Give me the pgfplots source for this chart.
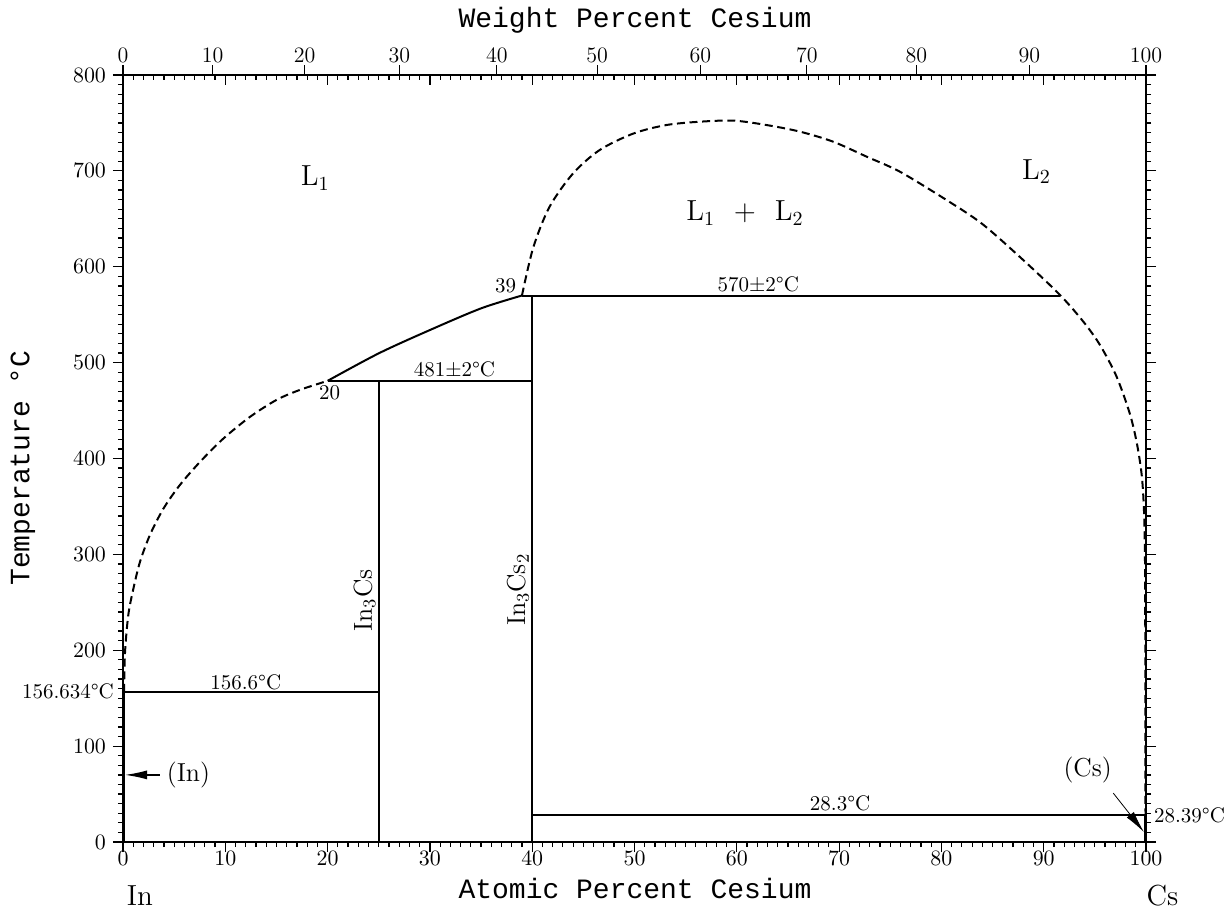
\documentclass[border=0pt]{standalone}
\usepackage{fontspec}
\usepackage{pgfplots}
\pgfplotsset{compat=1.18}
\usetikzlibrary{arrows.meta}
\newfontfamily\monofont{Liberation Mono}
\newcommand{\tickfont}{\fontsize{11}{11}\selectfont}
\newcommand{\annfont}{\fontsize{10.5}{10.5}\selectfont}
\newcommand{\regfont}{\fontsize{14.5}{14.5}\selectfont}
\newcommand{\phfont}{\fontsize{13}{13}\selectfont}
\newcommand{\labfont}{\monofont\fontsize{14}{14}\selectfont}
\pgfplotsset{
  common/.style={at={(0,0)}, anchor=south west, scale only axis,
    width=511.5pt, height=383.5pt, xmin=0, xmax=100, ymin=0, ymax=800,
    axis line style={line width=0.75pt},
    every tick/.style={black, line width=0.6pt},
    major tick length=5pt, minor tick length=2.5pt,
    tick label style={font=\tickfont}},
  ph/.style={black, line width=1pt},
  phd/.style={black, line width=1pt, dash pattern=on 4pt off 2.3pt},
}
\begin{document}
\begin{tikzpicture}
\useasboundingbox (-61.5pt,-35pt) rectangle (553.5pt,421pt);
% weight percent (top, outward)
\begin{axis}[common,
  xtick={0,8.758,17.762,27.020,36.545,46.351,56.444,66.841,77.557,88.605,100},
  xticklabels={0,10,20,30,40,50,60,70,80,90,100},
  xtick pos=right, xticklabel pos=right, tick align=outside,
  ytick=\empty, xticklabel style={yshift=-2.5pt}]
\end{axis}
% atomic percent ticks on top (inward)
\begin{axis}[common,
  xtick={0,10,...,100}, minor x tick num=9, xticklabels={},
  xtick pos=right, tick align=inside, ytick=\empty]
\end{axis}
% main axis
\begin{axis}[common, clip=false,
  xtick={0,10,...,100}, minor x tick num=9,
  ytick={0,100,...,800}, minor y tick num=9,
  xtick pos=left, ytick pos=both, yticklabel pos=left,
  tick align=outside,
  xticklabel style={yshift=4pt}]
% In-rich liquidus (L1), dashed
\addplot[phd, smooth] coordinates {(0.1,156.6)(0.2,198.3)(0.52,236.9)(1.01,264)(1.66,292.2)(2.64,320.4)(3.94,347.5)(5.57,372.5)(7.53,396.5)(9.78,420.5)(12.41,443.4)(15.02,461.2)(17.3,471.6)(20,481)};
% L1 liquidus, solid 20-39
\addplot[ph, smooth] coordinates {(20,481)(25,509.7)(30,534)(35,556.6)(39,570)};
% miscibility gap and Cs-rich liquidus, dashed
\addplot[phd, smooth] coordinates {(39,570)(40.1,620)(41.7,662.6)(44.0,697.4)(46.6,721.8)(49.9,739)(53.1,747.8)(56.4,751.3)(59.7,752.4)(62.92,747.8)(66.18,740.9)(69.43,730.4)(72.7,714.8)(75.95,699.1)(80.5,669.6)(84.0,644.6)(88.0,607.0)(91.6,570.5)(93.9,542.4)(95.5,518.4)(97.1,486.0)(98.4,447.4)(99.1,416.2)(99.58,382.8)(99.8,346.3)(99.9,294.1)(99.93,200)(99.95,28.39)};
% invariant lines and compounds
\addplot[ph] coordinates {(0,156.6)(25,156.6)};
\addplot[ph] coordinates {(25,0)(25,481)};
\addplot[ph] coordinates {(20,481)(40,481)};
\addplot[ph] coordinates {(40,0)(40,570)};
\addplot[ph] coordinates {(39,570)(91.6,570)};
\addplot[ph] coordinates {(40,28.3)(100,28.3)};
\addplot[black, line width=1.2pt] coordinates {(0.12,0)(0.12,156.6)};
\addplot[black, line width=1.2pt] coordinates {(99.9,0)(99.9,28.39)};
% arrows
\addplot[black, line width=0.6pt, -{Latex[length=11pt,width=4.5pt]}] coordinates {(3.6,70)(0.2,70)};
\addplot[black, line width=0.4pt, -{Latex[length=11pt,width=4.5pt]}] coordinates {(96.8,51)(99.8,10.4)};
% labels
\node[font=\regfont] at (axis cs:18.8,692.6) {L$_1$};
\node[font=\regfont] at (axis cs:89.3,699) {L$_2$};
\node[font=\regfont] at (axis cs:60.8,656) {L$_1$\ \ +\ \ L$_2$};
\node[font=\annfont] at (axis cs:62.1,582) {570±2°C};
\node[font=\annfont] at (axis cs:32.4,493) {481±2°C};
\node[font=\annfont] at (axis cs:37.4,580) {39};
\node[font=\annfont] at (axis cs:20.2,469) {20};
\node[font=\annfont] at (axis cs:12.0,167) {156.6°C};
\node[font=\annfont] at (axis cs:70.1,40) {28.3°C};
\node[font=\annfont, anchor=east] at (axis cs:-0.2,157) {156.634°C};
\node[font=\annfont, anchor=west] at (axis cs:100.1,28.3) {28.39°C};
\node[font=\phfont, rotate=90] at (axis cs:23.6,252) {In$_3$Cs};
\node[font=\phfont, rotate=90] at (axis cs:38.6,263) {In$_3$Cs$_2$};
\node[font=\phfont, anchor=west] at (axis cs:3.6,70) {(In)};
\node[font=\phfont] at (axis cs:94.3,75) {(Cs)};
\node[font=\regfont] at (axis cs:1.66,-56) {In};
\node[font=\regfont] at (axis cs:101.6,-56) {Cs};
\node[font=\labfont] at (axis cs:50.05,-48) {Atomic Percent Cesium};
\node[font=\labfont] at (axis cs:50.05,857.4) {Weight Percent Cesium};
\node[font=\labfont, rotate=90] at (axis cs:-9.78,390) {Temperature °C};
\end{axis}
\end{tikzpicture}
\end{document}
